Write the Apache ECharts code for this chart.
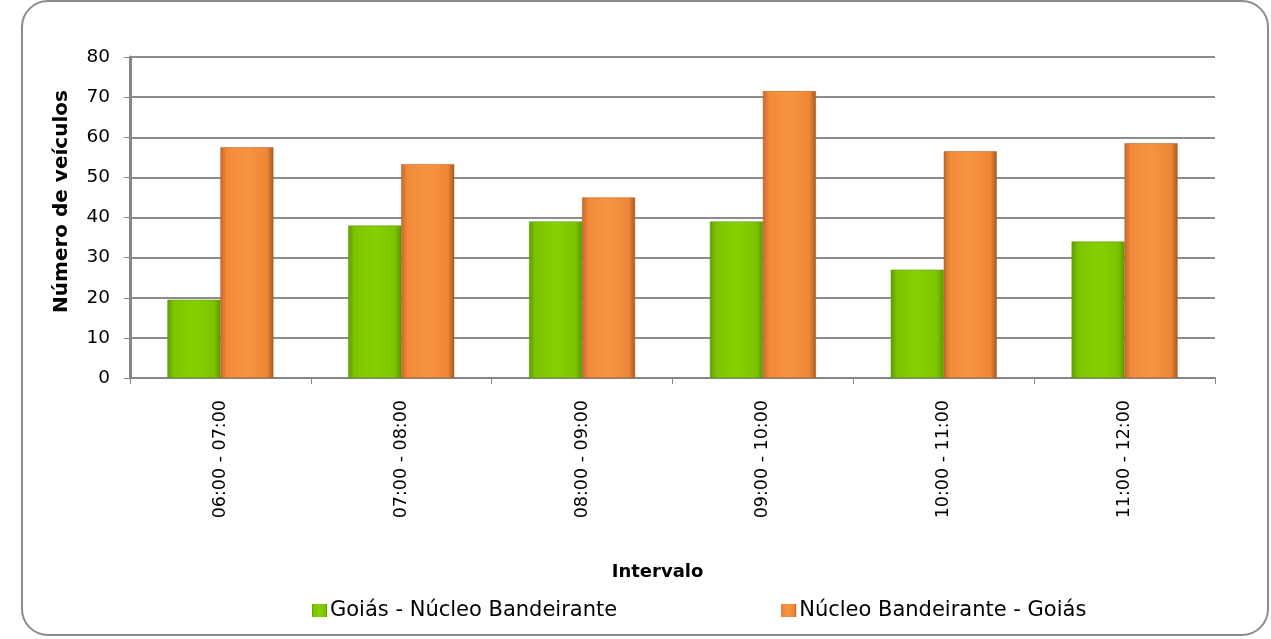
<!DOCTYPE html>
<html><head><meta charset="utf-8">
<script src="https://cdn.jsdelivr.net/npm/echarts@6/dist/echarts.min.js"></script>
<style>html,body{margin:0;padding:0;background:#fff}#c{width:1271px;height:639px}</style>
</head><body><div id="c"></div>
<script>
const categories = ['06:00 - 07:00','07:00 - 08:00','08:00 - 09:00','09:00 - 10:00','10:00 - 11:00','11:00 - 12:00'];
const seriesNames = ['Goiás - Núcleo Bandeirante','Núcleo Bandeirante - Goiás'];
const goiasNucleo = [19.5, 38, 39, 39, 27, 34];
const nucleoGoias = [57.5, 53.3, 45, 71.5, 56.5, 58.5];
const yTicks = [0,10,20,30,40,50,60,70,80];

const FONT = '"DejaVu Sans", sans-serif';
const green = new echarts.graphic.LinearGradient(0,0,1,0,[
  {offset:0,color:'#5f9e00'},{offset:0.12,color:'#7cc400'},{offset:0.5,color:'#86d000'},{offset:0.88,color:'#7cc400'},{offset:1,color:'#5a9600'}]);
const orange = new echarts.graphic.LinearGradient(0,0,1,0,[
  {offset:0,color:'#c8692a'},{offset:0.12,color:'#f28a3a'},{offset:0.5,color:'#f7953f'},{offset:0.88,color:'#ee8636'},{offset:1,color:'#a85a22'}]);

const chart = echarts.init(document.getElementById('c'), null, {renderer:'canvas'});
chart.setOption({
  animation:false,
  backgroundColor:'#fff',
  color:['#7cc400','#f28a3a'],
  graphic:[{type:'rect',shape:{x:22,y:1,width:1246,height:634,r:26},style:{fill:'none',stroke:'#8c8c8c',lineWidth:2},z:-1}],
  grid:{left:130,right:56,top:57,bottom:261,containLabel:false},
  legend:{
    top:595,left:307,itemGap:164,itemWidth:15,itemHeight:13,icon:'rect',
    itemStyle:{borderWidth:0},
    textStyle:{fontFamily:FONT,fontSize:21,color:'#000',padding:[0,0,0,-2]},
    data:seriesNames
  },
  xAxis:{
    type:'category',data:categories,boundaryGap:true,
    name:'Intervalo',nameLocation:'middle',nameGap:185,
    nameTextStyle:{fontFamily:FONT,fontSize:18,fontWeight:'bold',color:'#000',padding:[0,30,0,0]},
    axisLine:{lineStyle:{color:'#868686',width:2}},
    axisTick:{show:true,alignWithLabel:false,length:6,lineStyle:{color:'#868686',width:1}},
    axisLabel:{rotate:90,fontFamily:FONT,fontSize:17.5,color:'#000',margin:22}
  },
  yAxis:{
    type:'value',min:0,max:80,interval:10,
    name:'Número de veículos',nameLocation:'middle',nameGap:58,nameRotate:90,
    nameTextStyle:{fontFamily:FONT,fontSize:20,fontWeight:'bold',color:'#000',padding:[0,0,0,32]},
    axisLine:{show:true,lineStyle:{color:'#868686',width:3}},
    axisTick:{show:true,length:6,lineStyle:{color:'#868686',width:1}},
    axisLabel:{fontFamily:FONT,fontSize:18.5,color:'#000',margin:20,
      formatter:v=>yTicks.includes(v)?String(v):''},
    splitLine:{lineStyle:{color:'#8c8c8c',width:2}}
  },
  series:[
    {name:seriesNames[0],type:'bar',data:goiasNucleo,barWidth:53,barGap:'0%',
     itemStyle:{color:green,borderColor:'#5a9600',borderWidth:0.5}},
    {name:seriesNames[1],type:'bar',data:nucleoGoias,barWidth:53,
     itemStyle:{color:orange,borderColor:'#a85a22',borderWidth:0.5}}
  ]
});
</script></body></html>
